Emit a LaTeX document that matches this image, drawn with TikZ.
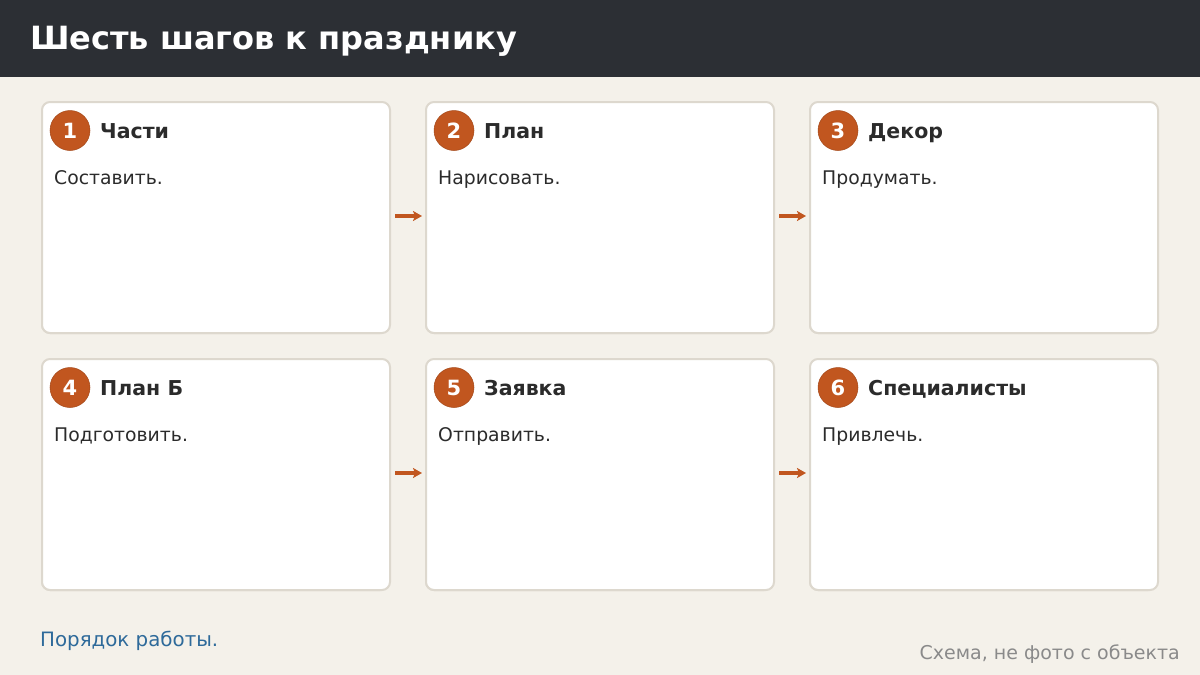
\documentclass[tikz,border=0pt]{standalone}
\usepackage{fontspec}
\setmainfont{DejaVu Sans}
\usetikzlibrary{arrows.meta}
\definecolor{bgc}{HTML}{F4F1EA}
\definecolor{headc}{HTML}{2C2F34}
\definecolor{cardb}{HTML}{DDD8CE}
\definecolor{orng}{HTML}{C1561F}
\definecolor{txtc}{HTML}{2B2B2B}
\definecolor{bluec}{HTML}{2E6A9A}
\definecolor{grayc}{HTML}{8A8A8A}
\tikzset{
  card/.style={draw=cardb, line width=2pt, fill=white, rounded corners=8pt, minimum width=348pt, minimum height=231pt, inner sep=0pt, anchor=north west},
  shadowbox/.style={fill=cardb, rounded corners=9pt},
  badge/.style={circle, fill=orng, draw=orng!85!black, line width=0.5pt, minimum size=40pt, inner sep=0pt, text=white, font=\bfseries\fontsize{21}{25}\selectfont},
  ctitle/.style={anchor=base west, inner sep=0pt, text=txtc, font=\bfseries\fontsize{20.5}{24}\selectfont},
  cbody/.style={anchor=base west, inner sep=0pt, text=txtc, font=\fontsize{18.8}{22}\selectfont},
  flow/.style={draw=orng, line width=4pt, -{Stealth[length=9pt,width=10pt,inset=2pt]}, shorten <=4pt, shorten >=3pt}
}
\begin{document}
\begin{tikzpicture}[x=1pt,y=-1pt]
\useasboundingbox (0,0) rectangle (1200,675);
\fill[bgc] (0,0) rectangle (1200,675);
\fill[headc] (0,0) rectangle (1200,77);
\node[anchor=base west, inner sep=0pt, text=white, font=\bfseries\fontsize{32}{38}\selectfont] (title) at (30,49) {Шесть шагов к празднику};
% cards
\foreach \n/\x/\y/\t/\b in {1/41/101/Части/Составить., 2/425/101/План/Нарисовать., 3/809/101/Декор/Продумать., 4/41/358/План Б/Подготовить., 5/425/358/Заявка/Отправить., 6/809/358/Специалисты/Привлечь.}{
  \fill[shadowbox] (\x,\y+2) rectangle (\x+348,\y+233);
  \node[card] (c\n) at (\x,\y) {};
  \node[badge] (b\n) at (\x+29,\y+29.5) {\n};
  \node[ctitle] (t\n) at (\x+59,\y+37) {\t};
  \node[cbody] (d\n) at (\x+13,\y+83) {\b};
}
\draw[flow] ([yshift=1.5pt]c1.east) -- ([yshift=1.5pt]c2.west);
\draw[flow] ([yshift=1.5pt]c2.east) -- ([yshift=1.5pt]c3.west);
\draw[flow] ([yshift=1.5pt]c4.east) -- ([yshift=1.5pt]c5.west);
\draw[flow] ([yshift=1.5pt]c5.east) -- ([yshift=1.5pt]c6.west);
\node[anchor=base west, inner sep=0pt, text=bluec, font=\fontsize{19.8}{24}\selectfont] (note) at (40,646) {Порядок работы.};
\node[anchor=base east, inner sep=0pt, text=grayc, font=\fontsize{19}{23}\selectfont] (src) at (1180,659) {Схема, не фото с объекта};
\end{tikzpicture}
\end{document}
